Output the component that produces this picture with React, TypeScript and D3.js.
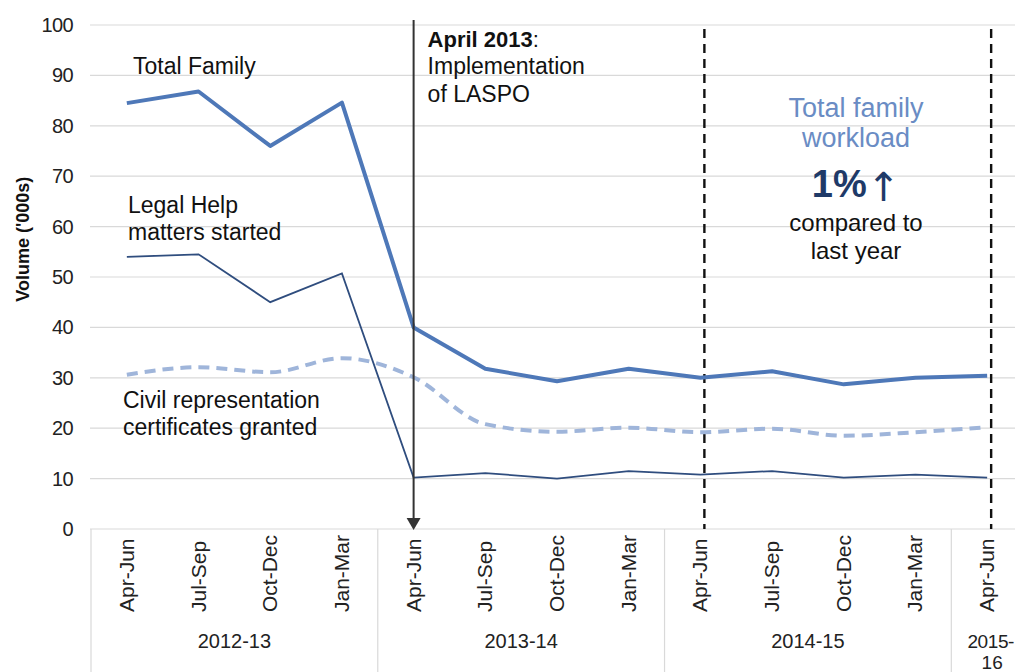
import * as d3 from 'd3';
import { useEffect, useRef } from 'react';

const years = ['2012-13', '2013-14', '2014-15', '2015-16']
const quarters = ['Apr-Jun', 'Jul-Sep', 'Oct-Dec', 'Jan-Mar', 'Apr-Jun', 'Jul-Sep', 'Oct-Dec', 'Jan-Mar', 'Apr-Jun', 'Jul-Sep', 'Oct-Dec', 'Jan-Mar', 'Apr-Jun']
const quarterYear = ['2012-13', '2012-13', '2012-13', '2012-13', '2013-14', '2013-14', '2013-14', '2013-14', '2014-15', '2014-15', '2014-15', '2014-15', '2015-16']

const totalFamily = [84.5, 86.8, 76, 84.6, 40, 31.8, 29.3, 31.8, 30, 31.3, 28.7, 30, 30.4]
const legalHelp = [54, 54.5, 45, 50.7, 10.2, 11.1, 10, 11.5, 10.8, 11.5, 10.2, 10.8, 10.2]
const civilRep = [30.6, 32.1, 31.1, 33.9, 30.1, 20.8, 19.3, 20.1, 19.2, 19.9, 18.5, 19.2, 20.2]

const yTicks = [0, 10, 20, 30, 40, 50, 60, 70, 80, 90, 100]

const W = 1015
const H = 672
const FONT = 'Liberation Sans, Arial, sans-serif'

export default function App() {
    const svgRef = useRef(null)

    useEffect(() => {
        drawChart(svgRef.current)
    }, [])

    return (
        <div style={{ position: 'absolute', left: 0, top: 0 }}>
            <svg ref={svgRef} width={W} height={H} style={{ display: 'block', background: '#fff' }}></svg>
        </div>
    )
}

function drawChart(el) {
    const svg = d3.select(el)
    svg.selectAll('*').remove()

    const keys = quarters.map((q, i) => i + ' ' + q)
    const x = d3.scaleBand().domain(keys).range([91, 1023])
    const bw = x.bandwidth()
    const cx = i => x(keys[i]) + bw / 2
    const y = d3.scaleLinear().domain([0, 100]).range([529, 25])

    // gridlines
    svg.append('g')
        .selectAll('line')
        .data(yTicks)
        .enter()
        .append('line')
        .attr('x1', 90).attr('x2', W)
        .attr('y1', d => y(d)).attr('y2', d => y(d))
        .attr('stroke', '#d9d9d9').attr('stroke-width', 1.2)

    // y axis labels
    svg.append('g')
        .selectAll('text')
        .data(yTicks)
        .enter()
        .append('text')
        .attr('x', 73).attr('y', d => y(d) + 7)
        .attr('text-anchor', 'end')
        .attr('font-family', FONT).attr('font-size', 20).attr('fill', '#222')
        .attr('letter-spacing', -0.6)
        .text(d => d)

    svg.append('text')
        .attr('transform', 'translate(29,' + y(57.5) + ') rotate(-90)')
        .attr('text-anchor', 'middle')
        .attr('font-family', FONT).attr('font-size', 18).attr('font-weight', 'bold').attr('fill', '#111')
        .text("Volume ('000s)")

    // year group dividers
    const groupStarts = years.map(yr => quarterYear.indexOf(yr))
    svg.append('g')
        .selectAll('line')
        .data(groupStarts)
        .enter()
        .append('line')
        .attr('x1', d => x(keys[d])).attr('x2', d => x(keys[d]))
        .attr('y1', y(0)).attr('y2', H)
        .attr('stroke', '#d9d9d9').attr('stroke-width', 1.2)

    // quarter labels
    svg.append('g')
        .selectAll('text')
        .data(quarters)
        .enter()
        .append('text')
        .attr('transform', (d, i) => 'translate(' + (cx(i) + 7) + ',612) rotate(-90)')
        .attr('text-anchor', 'start')
        .attr('font-family', FONT).attr('font-size', 21).attr('fill', '#222')
        .text(d => d)

    // year labels
    years.forEach(yr => {
        const idx = quarterYear.map((q, i) => q === yr ? i : -1).filter(i => i >= 0)
        const mid = (cx(idx[0]) + cx(idx[idx.length - 1])) / 2
        if (idx.length > 1) {
            svg.append('text')
                .attr('x', mid).attr('y', 648)
                .attr('text-anchor', 'middle')
                .attr('font-family', FONT).attr('font-size', 20).attr('fill', '#222')
                .text(yr)
        } else {
            // last year is clipped at the right edge, so it wraps
            const parts = yr.split('-')
            svg.append('text')
                .attr('x', W - 1).attr('y', 648)
                .attr('text-anchor', 'end')
                .attr('font-family', FONT).attr('font-size', 19).attr('fill', '#222')
                .attr('letter-spacing', -0.4)
                .text(parts[0] + '-')
            svg.append('text')
                .attr('x', mid + 5).attr('y', 669)
                .attr('text-anchor', 'middle')
                .attr('font-family', FONT).attr('font-size', 19).attr('fill', '#222')
                .text(parts[1])
        }
    })

    // dashed year markers
    const dashIdx = [quarterYear.indexOf('2014-15'), quarterYear.indexOf('2015-16')]
    svg.append('g')
        .selectAll('line')
        .data(dashIdx)
        .enter()
        .append('line')
        .attr('x1', d => cx(d) + 4).attr('x2', d => cx(d) + 4)
        .attr('y1', 29).attr('y2', y(0))
        .attr('stroke', '#111').attr('stroke-width', 2.4).attr('stroke-dasharray', '9,6')

    // lines
    const line = d3.line().x((d, i) => cx(i)).y(d => y(d))
    const smooth = d3.line().x((d, i) => cx(i)).y(d => y(d)).curve(d3.curveMonotoneX)

    svg.append('path')
        .attr('d', smooth(civilRep))
        .attr('fill', 'none').attr('stroke', '#9fb5da').attr('stroke-width', 4)
        .attr('stroke-dasharray', '11,7')

    svg.append('path')
        .attr('d', line(legalHelp))
        .attr('fill', 'none').attr('stroke', '#2f4d7e').attr('stroke-width', 1.8)

    svg.append('path')
        .attr('d', line(totalFamily))
        .attr('fill', 'none').attr('stroke', '#4e78b8').attr('stroke-width', 4)
        .attr('stroke-linejoin', 'round')

    // LASPO arrow
    const ax = cx(quarterYear.indexOf('2013-14'))
    svg.append('line')
        .attr('x1', ax).attr('x2', ax)
        .attr('y1', 20).attr('y2', y(0) - 10)
        .attr('stroke', '#333').attr('stroke-width', 2)
    svg.append('path')
        .attr('d', 'M' + (ax - 7) + ',' + (y(0) - 11) + 'L' + (ax + 7) + ',' + (y(0) - 11) + 'L' + ax + ',' + (y(0) + 1) + 'Z')
        .attr('fill', '#333')

    // annotations
    const label = (tx, ty, t, opts = {}) => svg.append('text')
        .attr('x', tx).attr('y', ty)
        .attr('text-anchor', opts.anchor || 'start')
        .attr('font-family', FONT).attr('font-size', opts.size || 23)
        .attr('font-weight', opts.weight || 'normal')
        .attr('fill', opts.fill || '#111')
        .text(t)

    label(133, 74, 'Total Family')
    label(128, 213, 'Legal Help')
    label(128, 240, 'matters started')
    label(123, 408, 'Civil representation')
    label(123, 435, 'certificates granted')

    const apr = svg.append('text')
        .attr('x', ax + 14).attr('y', 47)
        .attr('font-family', FONT).attr('font-size', 22).attr('fill', '#111')
    apr.append('tspan').attr('font-weight', 'bold').text('April 2013')
    apr.append('tspan').text(':')
    label(ax + 14, 74, 'Implementation')
    label(ax + 14, 102, 'of LASPO')

    label(856, 117, 'Total family', { anchor: 'middle', size: 27, fill: '#6a8cc4' })
    label(856, 147, 'workload', { anchor: 'middle', size: 27, fill: '#6a8cc4' })
    const pct = svg.append('text')
        .attr('x', 856).attr('y', 197)
        .attr('text-anchor', 'middle')
        .attr('font-family', FONT).attr('fill', '#1f3a68')
    pct.append('tspan').attr('font-size', 38).attr('font-weight', 'bold').text('1%')
    pct.append('tspan').attr('font-size', 40).attr('font-family', 'DejaVu Sans').attr('font-weight', 'normal').attr('dy', 4).text('↑')
    label(856, 231, 'compared to', { anchor: 'middle', size: 24 })
    label(856, 259, 'last year', { anchor: 'middle', size: 24 })
}
